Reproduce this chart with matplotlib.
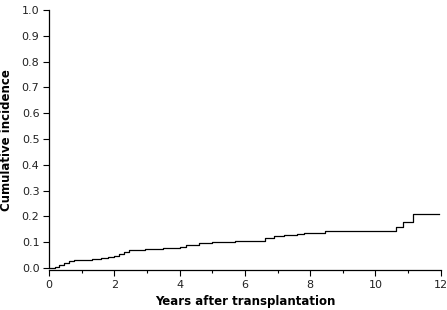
import matplotlib
matplotlib.use("Agg")
import matplotlib.pyplot as plt
from matplotlib.ticker import MultipleLocator

# step times (years) and cumulative incidence after each step
times = [0.0, 0.18, 0.3, 0.45, 0.6, 0.75, 1.0, 1.3, 1.6, 1.8, 2.0, 2.15, 2.3, 2.45,
         2.7, 2.95, 3.5, 4.0, 4.18, 4.6, 5.0, 5.7, 6.6, 6.9, 7.2, 7.6, 7.8, 8.44,
         10.62, 10.85, 11.14, 11.96]
cuminc = [0.0, 0.005, 0.012, 0.02, 0.026, 0.03, 0.032, 0.035, 0.038, 0.042, 0.047, 0.054,
          0.062, 0.068, 0.071, 0.075, 0.078, 0.083, 0.09, 0.095, 0.1, 0.105, 0.116, 0.122,
          0.129, 0.133, 0.137, 0.142, 0.157, 0.178, 0.208, 0.208]

fig = plt.figure(figsize=(4.47, 3.10), dpi=100)
ax = fig.add_axes([0.110, 0.129, 0.876, 0.839])

ax.plot(times, cuminc, drawstyle="steps-post", c="k", lw=0.9)

ax.set_xlim(0, 12)
ax.set_ylim(-0.008, 1.0)
ax.xaxis.set_major_locator(MultipleLocator(2))
ax.xaxis.set_minor_locator(MultipleLocator(1))
ax.set_yticks([i / 10 for i in range(11)])
ax.set_yticklabels(["%.1f" % (i / 10) for i in range(11)])

ax.spines["top"].set_visible(False)
ax.spines["right"].set_visible(False)
ax.spines["left"].set_bounds(0, 1.0)
ax.spines["left"].set_linewidth(0.9)
ax.spines["bottom"].set_linewidth(0.9)
ax.tick_params(axis="both", which="major", labelsize=8, length=4, width=0.8, pad=3,
               labelcolor="#222222")
ax.tick_params(axis="x", which="minor", length=2.5, width=0.8)

ax.set_xlabel("Years after transplantation", fontsize=8.5, fontweight="bold", labelpad=4)
ax.set_ylabel("Cumulative incidence", fontsize=8.5, fontweight="bold", labelpad=6)

fig.savefig("out.png", dpi=100)
